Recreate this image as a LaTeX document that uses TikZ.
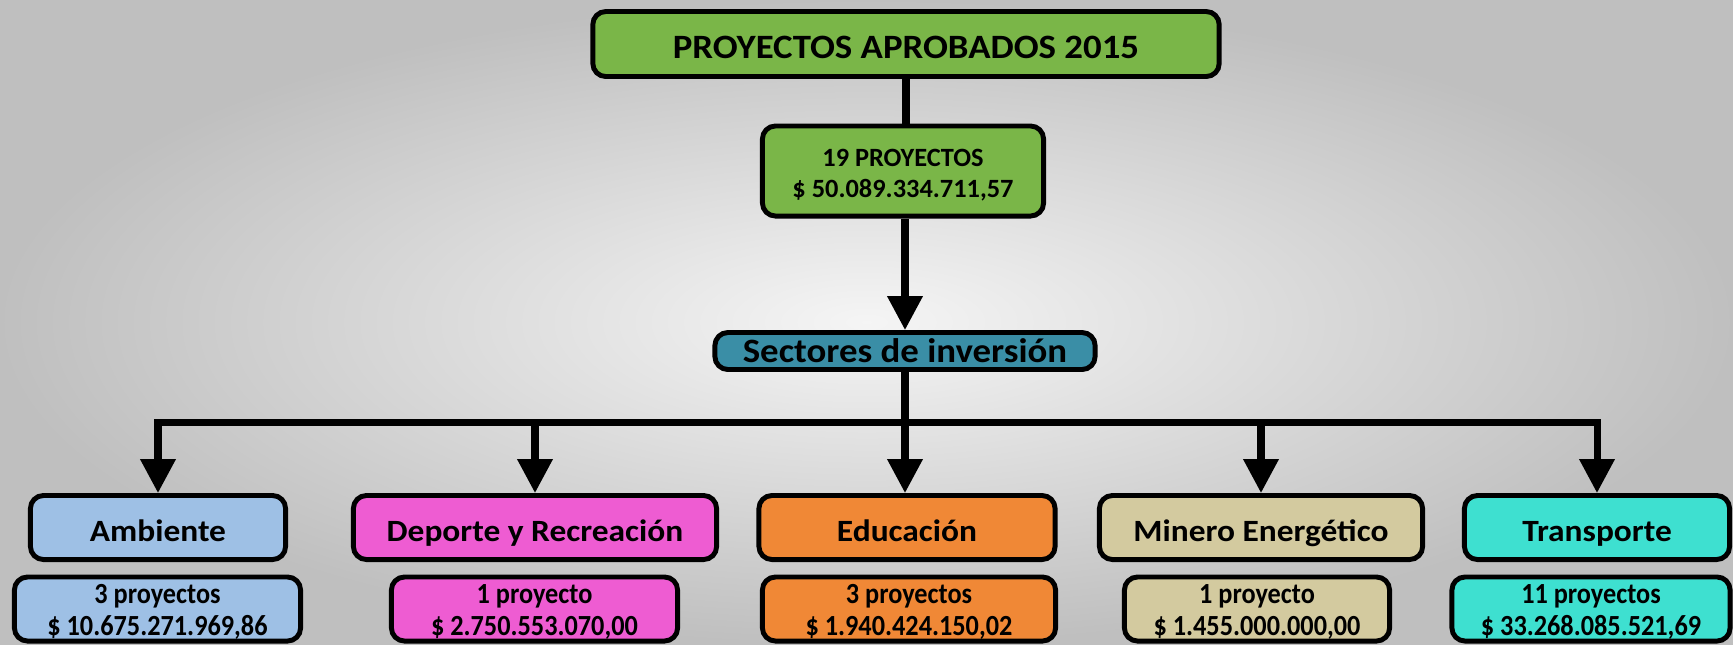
\documentclass[tikz,border=0pt]{standalone}
\usepackage{fontspec}
\setmainfont{Carlito}
\newfontfamily\ancha{Carlito}[FakeStretch=1.08]
\newfontfamily\estrecha{Carlito}[FakeStretch=0.9]
\usetikzlibrary{arrows.meta}
\definecolor{verde}{HTML}{7AB648}
\definecolor{sector}{HTML}{3A8EA6}
\definecolor{azulclaro}{HTML}{9EC0E5}
\definecolor{magenta}{HTML}{EE5CD2}
\definecolor{naranja}{HTML}{F08836}
\definecolor{arena}{HTML}{D3CA9F}
\definecolor{turquesa}{HTML}{3EE0D0}
\begin{document}
\begin{tikzpicture}[x=0.01cm,y=-0.01cm,
	caja/.style={draw=black,line width=1.4pt,rounded corners=0.13cm,inner sep=0pt,align=center},
	grande/.style={caja,font=\ancha\fontsize{9.7}{11}\selectfont\bfseries},
	rama/.style={caja,minimum height=0.64cm,text height=8pt,text depth=0pt,font=\ancha\fontsize{8.8}{10}\selectfont\bfseries},
	dato/.style={caja,text height=14.8pt,text depth=0pt,font=\fontsize{7.5}{8.8}\selectfont\bfseries},
	valor/.style={dato,minimum height=0.64cm,font=\estrecha\fontsize{8.3}{9}\selectfont\bfseries},
	linea/.style={line width=2pt},
	flecha/.style={linea,-{Triangle[width=0.34cm,length=0.34cm]}}]
		\useasboundingbox (0,0) rectangle (1733,644);
		\shade[inner color=black!4,outer color=black!25] (0,0) rectangle (1733,644);
		\node[grande,fill=verde,minimum width=6.26cm,minimum height=0.65cm,text height=8.3pt,text depth=0pt] (titulo) at (906,44) {PROYECTOS APROBADOS 2015};
		\node[dato,fill=verde,minimum width=2.81cm,minimum height=0.9cm] (total) at (903,171) {19 PROYECTOS\\\$ 50.089.334.711,57};
		\node[grande,fill=sector,minimum width=3.8cm,minimum height=0.37cm] (sectores) at (905,351) {Sectores de inversión};
		\node[rama,fill=azulclaro,minimum width=2.55cm] (ambiente) at (158,527.5) {Ambiente};
		\node[rama,fill=magenta,minimum width=3.63cm] (deporte) at (535,527.5) {Deporte y Recreación};
		\node[rama,fill=naranja,minimum width=2.96cm] (educacion) at (907,527.5) {Educación};
		\node[rama,fill=arena,minimum width=3.23cm] (minero) at (1261,527.5) {Minero Energético};
		\node[rama,fill=turquesa,minimum width=2.65cm] (transporte) at (1597,527.5) {Transporte};
		\node[valor,fill=azulclaro,minimum width=2.86cm] (ambienteval) at (157.5,609) {3 proyectos\\\$ 10.675.271.969,86};
		\node[valor,fill=magenta,minimum width=2.86cm] (deporteval) at (534.5,609) {1 proyecto\\\$ 2.750.553.070,00};
		\node[valor,fill=naranja,minimum width=2.93cm] (educacionval) at (909,609) {3 proyectos\\\$ 1.940.424.150,02};
		\node[valor,fill=arena,minimum width=2.65cm] (mineroval) at (1257,609) {1 proyecto\\\$ 1.455.000.000,00};
		\node[valor,fill=turquesa,minimum width=2.78cm] (transporteval) at (1591,609) {11 proyectos\\\$ 33.268.085.521,69};
		\coordinate (cruce) at (905,422);
		\draw[linea] (titulo.south) -- (titulo.south |- total.north);
		\draw[flecha] (total.south -| sectores.north) -- (sectores.north);
		\draw[flecha] (sectores.south) -- (sectores.south |- educacion.north);
		\draw[flecha] (cruce) -| (ambiente.north);
		\draw[flecha] (cruce) -| (transporte.north);
		\draw[flecha] (deporte.north |- cruce) -- (deporte.north);
		\draw[flecha] (minero.north |- cruce) -- (minero.north);
\end{tikzpicture}
\end{document}
